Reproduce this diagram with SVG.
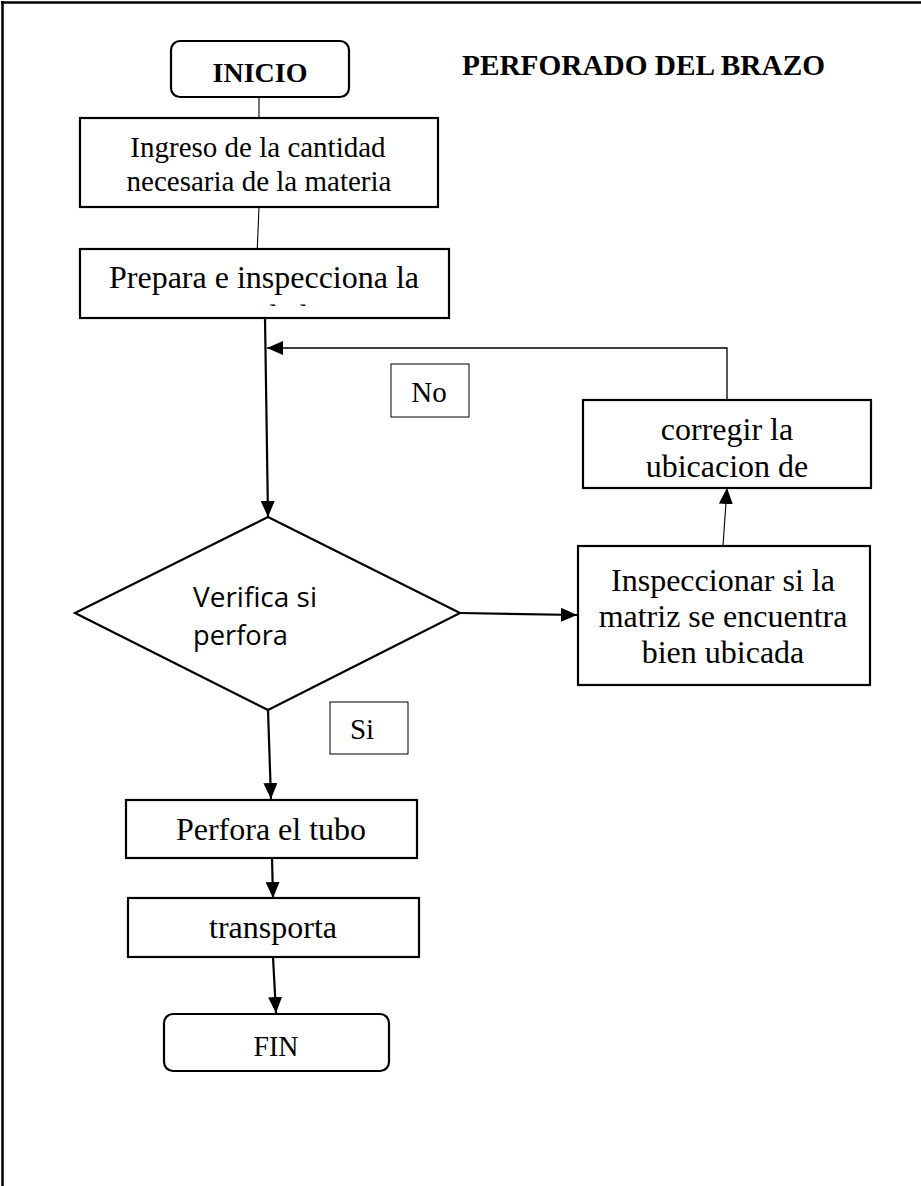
<svg xmlns="http://www.w3.org/2000/svg" width="921" height="1186" viewBox="0 0 921 1186">
  <style>
    .box { fill: #fff; stroke: #000; stroke-width: 2.2; }
    .tag { fill: #fff; stroke: #000; stroke-width: 1; }
    .t { font-family: 'Liberation Serif', 'Times New Roman', serif; font-size: 32px; fill: #000; }
    .s30 { font-size: 30px; }
    .s29 { font-size: 29px; }
    .s28 { font-size: 28px; }
    .c { text-anchor: middle; }
    .b { font-weight: bold; }
    .sans { font-family: 'Open Sans', 'Liberation Sans', sans-serif; font-size: 27px; fill: #000; }
    .edge { fill: none; stroke: #000; }
    .thick { stroke-width: 2.2; }
    .thin { stroke-width: 1.1; }
  </style>
  <defs>
    <marker id="arrow" markerUnits="userSpaceOnUse" markerWidth="16" markerHeight="14" refX="16" refY="7" orient="auto">
      <path d="M0,0 L16,7 L0,14 z" fill="#000"/>
    </marker>
    <!-- text area of the "Prepara" box: the second line runs past it -->
    <clipPath id="prepClip">
      <rect x="80" y="249" width="369" height="57"/>
    </clipPath>
  </defs>

  <!-- page frame -->
  <g id="frame">
    <line x1="1" y1="2.5" x2="921" y2="2.5" stroke="#000" stroke-width="2.5"/>
    <line x1="2.5" y1="1" x2="2.5" y2="1186" stroke="#000" stroke-width="2.5"/>
  </g>

  <!-- title -->
  <g id="title">
    <text class="t b s29" x="462" y="75" textLength="363" lengthAdjust="spacingAndGlyphs">PERFORADO DEL BRAZO</text>
  </g>

  <!-- connectors -->
  <g id="connectors">
    <line class="edge thin" x1="259" y1="97" x2="259" y2="118"/>
    <line class="edge thin" x1="259" y1="207" x2="257" y2="255"/>
    <line class="edge thick" x1="265" y1="318" x2="268" y2="517" marker-end="url(#arrow)"/>
    <polyline class="edge" stroke-width="1.3" points="727,400 727,348 267,348" marker-end="url(#arrow)"/>
    <line class="edge thick" x1="460" y1="613" x2="577" y2="615" marker-end="url(#arrow)"/>
    <line class="edge thin" x1="723" y1="546" x2="727" y2="488" marker-end="url(#arrow)"/>
    <line class="edge thick" x1="268" y1="710" x2="271" y2="799" marker-end="url(#arrow)"/>
    <line class="edge thick" x1="272" y1="858" x2="273" y2="898" marker-end="url(#arrow)"/>
    <line class="edge thick" x1="273" y1="957" x2="276" y2="1013" marker-end="url(#arrow)"/>
  </g>

  <g id="inicio">
    <rect class="box" x="171" y="41" width="178" height="56" rx="9"/>
    <text class="t b s28 c" x="260" y="82">INICIO</text>
  </g>

  <g id="ingreso">
    <rect class="box" x="80" y="118" width="358" height="89"/>
    <text class="t s29 c" x="258" y="157">Ingreso de la cantidad</text>
    <text class="t s29 c" x="259" y="191">necesaria de la materia</text>
  </g>

  <g id="prepara">
    <rect class="box" x="80" y="249" width="369" height="69"/>
    <g clip-path="url(#prepClip)">
      <text class="t c" x="264" y="288">Prepara e inspecciona la</text>
      <text class="t c" x="264" y="327">unidad</text>
    </g>
  </g>

  <g id="no-label">
    <rect class="tag" x="391" y="364" width="78" height="53"/>
    <text class="t s29 c" x="429" y="402">No</text>
  </g>

  <g id="verifica">
    <polygon class="box" points="268,517 460,613 268,710 75,613"/>
    <text class="sans" x="193" y="607" textLength="124" lengthAdjust="spacingAndGlyphs">Verifica si</text>
    <text class="sans" x="193" y="645" textLength="95" lengthAdjust="spacingAndGlyphs">perfora</text>
  </g>

  <g id="corregir">
    <rect class="box" x="583" y="400" width="288" height="88"/>
    <text class="t c" x="727" y="440">corregir la</text>
    <text class="t c" x="727" y="477">ubicacion de</text>
  </g>

  <g id="inspeccionar">
    <rect class="box" x="578" y="546" width="292" height="139"/>
    <text class="t c" x="723" y="591">Inspeccionar si la</text>
    <text class="t c" x="723" y="627">matriz se encuentra</text>
    <text class="t c" x="723" y="663">bien ubicada</text>
  </g>

  <g id="si-label">
    <rect class="tag" x="330" y="702" width="78" height="52"/>
    <text class="t s29 c" x="362" y="739">Si</text>
  </g>

  <g id="perfora">
    <rect class="box" x="126" y="800" width="291" height="58"/>
    <text class="t c" x="271" y="840">Perfora el tubo</text>
  </g>

  <g id="transporta">
    <rect class="box" x="128" y="898" width="291" height="59"/>
    <text class="t c" x="273" y="938">transporta</text>
  </g>

  <g id="fin">
    <rect class="box" x="164" y="1014" width="225" height="57" rx="9"/>
    <text class="t s30 c" x="276" y="1056" textLength="45" lengthAdjust="spacingAndGlyphs">FIN</text>
  </g>
</svg>
